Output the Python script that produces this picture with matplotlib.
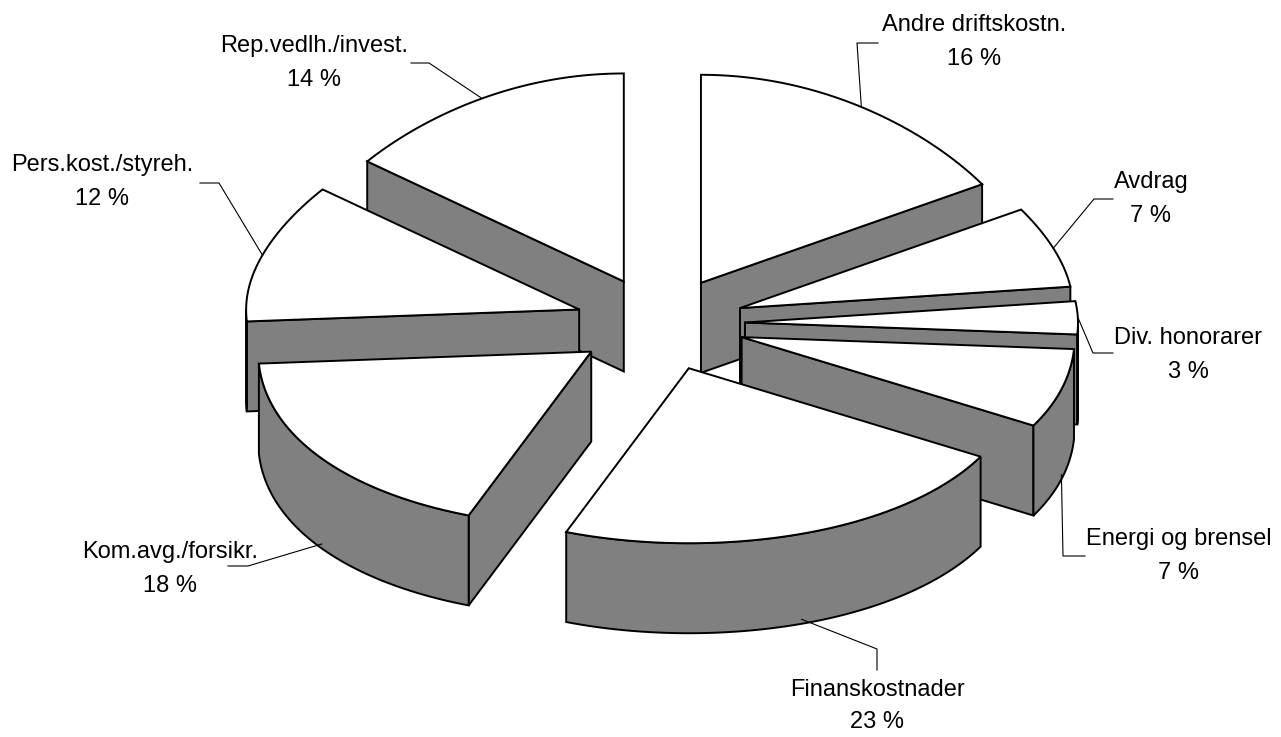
import numpy as np
import matplotlib
matplotlib.use("Agg")
import matplotlib.pyplot as plt
from matplotlib.patches import Polygon

# ---------------- data ----------------
categories = ["Andre driftskostn.", "Avdrag", "Div. honorarer", "Energi og brensel",
              "Finanskostnader", "Kom.avg./forsikr.", "Pers.kost./styreh.", "Rep.vedlh./invest."]
values = [16, 7, 3, 7, 23, 18, 12, 14]

# ---------------- layout / style ----------------
W, H = 1281, 737
CX, CY = 660, 324          # pie centre (pixels)
RX, RY, KY, KC = 333, 191.5, 16.5, 23
DEPTH = 90
EX, EY = 85, 47            # explode distance
TOP_COLOR = "white"
SIDE_COLOR = "#808080"
EDGE_LW = 1.4
FONT = "Liberation Sans"
FS = 17

# label layout: name centre, gap to percentage line, leader elbow, leader end
label_pos = [(974, 25), (1151, 182), (1188, 338), (1179, 539),
             (877, 690), (170, 552), (102, 165), (314, 46)]
label_gaps = [34, 34, 34, 34, 32, 34, 34, 34]
elbows = [(857, 43), (1094, 199), (1093, 353), (1063, 556),
          (877, 649), (248, 566), (219, 183), (429, 63)]
ends = [(878, 43), (1113, 199), (1113, 353), (1085, 556),
        (877, 670), (228, 566), (200, 183), (411, 63)]

plt.rcParams['font.family'] = [FONT, 'DejaVu Sans']
fig = plt.figure(figsize=(W / 100, H / 100), dpi=100)
ax = fig.add_axes([0, 0, 1, 1])
ax.set_xlim(0, W)
ax.set_ylim(H, 0)
ax.axis("off")


def proj(vx, vy, th, down=0.0):
    t = np.radians(th)
    s = np.sin(t)
    x = vx + RX * np.cos(t)
    y = vy - RY * s - KY * s ** 2 + KC * np.maximum(s - s ** 3, 0) + down
    return x, y


total = float(sum(values))
slices = []
cum = 0.0
for name, v in zip(categories, values):
    th2 = 90 - cum / total * 360
    th1 = th2 - v / total * 360
    cum += v
    mid = 0.5 * (th1 + th2)
    vx = CX + EX * np.cos(np.radians(mid))
    vy = CY - EY * np.sin(np.radians(mid))
    slices.append(dict(name=name, v=v, th1=th1, th2=th2, mid=mid, vx=vx, vy=vy))

order = sorted(range(len(slices)), key=lambda i: -np.sin(np.radians(slices[i]['mid'])))
z = 1
for i in order:
    s = slices[i]
    vx, vy, th1, th2 = s['vx'], s['vy'], s['th1'], s['th2']
    # radial walls
    for th, vis in ((th1, np.cos(np.radians(th1)) > 1e-6), (th2, np.cos(np.radians(th2)) < -1e-6)):
        if vis:
            px, py = proj(vx, vy, th)
            poly = [(vx, vy), (px, py), (px, py + DEPTH), (vx, vy + DEPTH)]
            ax.add_patch(Polygon(poly, closed=True, facecolor=SIDE_COLOR, edgecolor="black",
                                 lw=EDGE_LW, joinstyle="miter", zorder=z))
            z += 1
    # outer curved wall (front part only)
    for k in (0, -1):
        lo = max(th1, -180 + 360 * k)
        hi = min(th2, 0 + 360 * k)
        if hi - lo > 1e-6:
            ts = np.linspace(lo, hi, 120)
            xs, ys = proj(vx, vy, ts)
            pts = list(zip(xs, ys)) + list(zip(xs[::-1], ys[::-1] + DEPTH))
            ax.add_patch(Polygon(pts, closed=True, facecolor=SIDE_COLOR, edgecolor="black",
                                 lw=EDGE_LW, joinstyle="miter", zorder=z))
            z += 1
    # top face
    ts = np.linspace(th1, th2, 200)
    xs, ys = proj(vx, vy, ts)
    pts = [(vx, vy)] + list(zip(xs, ys))
    ax.add_patch(Polygon(pts, closed=True, facecolor=TOP_COLOR, edgecolor="black",
                         lw=EDGE_LW, joinstyle="miter", zorder=z))
    z += 1

# labels and leader lines
for i, s in enumerate(slices):
    m = s['mid']
    down = DEPTH * 0.95 if np.sin(np.radians(m)) < 0 else 0.0
    sx, sy = proj(s['vx'], s['vy'], m, down)
    ex_, ey_ = elbows[i]
    tx, ty = ends[i]
    ax.plot([sx, ex_, tx], [sy, ey_, ty], color="black", lw=0.8, zorder=z)
    lx, ly = label_pos[i]
    ax.text(lx, ly, s['name'], ha="center", va="center", fontsize=FS, color="black", zorder=z + 1)
    ax.text(lx, ly + label_gaps[i], f"{s['v']} %", ha="center", va="center", fontsize=FS,
            color="black", zorder=z + 1)

fig.savefig("out.png", dpi=100, facecolor="white")
